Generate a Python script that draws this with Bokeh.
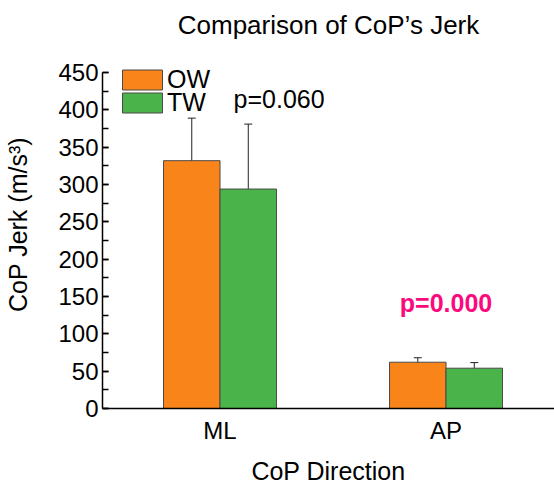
from bokeh.plotting import figure
from bokeh.models import (ColumnDataSource, Range1d, FixedTicker, SingleIntervalTicker,
                          Whisker, TeeHead, Legend, LegendItem, Label)
from bokeh.embed import file_html
from bokeh.resources import INLINE

# CoP jerk per direction, mean and standard deviation (m/s^3)
directions = ["ML", "AP"]
ow_mean = [332, 62]
ow_sd = [57, 6]
tw_mean = [294, 54]
tw_sd = [87, 7.5]
p_values = ["p=0.060", "p=0.000"]
y_max = 450

FONT = "Liberation Sans"
ORANGE = "#F9841A"
GREEN = "#4AB34A"
EDGE = "#4a4a4a"
BAR_W = 0.25

group_x = list(range(len(directions)))


def make_source(means, sds, offset):
    return ColumnDataSource(dict(
        x=[g + offset for g in group_x],
        top=means,
        upper=[m + s for m, s in zip(means, sds)],
        lower=[m - s for m, s in zip(means, sds)],
    ))


ow_src = make_source(ow_mean, ow_sd, -BAR_W / 2)
tw_src = make_source(tw_mean, tw_sd, BAR_W / 2)

# headroom above the axis so the legend is not clipped; the axis itself stops at y_max
p = figure(width=554, height=487, output_backend="svg", toolbar_location=None,
           x_range=Range1d(-0.52, 1.48), y_range=Range1d(0, 493),
           min_border_left=102, min_border_right=0, min_border_top=40,
           min_border_bottom=79)
p.outline_line_color = None
p.background_fill_color = "white"
p.border_fill_color = "white"
p.xgrid.visible = False
p.ygrid.visible = False

p.title.text = "Comparison of CoP\u2019s Jerk"
p.title.align = "center"
p.title.text_font = FONT
p.title.text_font_size = "26px"
p.title.text_font_style = "normal"
p.title.text_color = "black"
p.title.text_line_height = 1.0
p.title.standoff = 2

ow_r = p.vbar(x="x", top="top", width=BAR_W, source=ow_src, fill_color=ORANGE,
              line_color=EDGE, line_width=1)
tw_r = p.vbar(x="x", top="top", width=BAR_W, source=tw_src, fill_color=GREEN,
              line_color=EDGE, line_width=1)

for src in (ow_src, tw_src):
    w = Whisker(base="x", upper="upper", lower="lower", source=src,
                line_color="#222222", line_width=1,
                upper_head=TeeHead(size=8, line_color="#222222", line_width=1),
                lower_head=TeeHead(size=8, line_color="#222222", line_width=1))
    p.add_layout(w)

# p-value annotations
p.add_layout(Label(x=0.06, y=415, text=p_values[0], text_font=FONT,
                   text_font_size="25px", text_baseline="middle", text_align="left",
                   text_color="black"))
p.add_layout(Label(x=1, y=141, text=p_values[1], text_font=FONT,
                   text_font_size="25px", text_font_style="bold",
                   text_baseline="middle", text_align="center", text_color="#FA0A7D"))

# x axis
xa = p.xaxis[0]
xa.ticker = FixedTicker(ticks=group_x)
xa.major_label_overrides = {g: d for g, d in zip(group_x, directions)}
xa.major_tick_in = 0
xa.major_tick_out = 0
xa.minor_tick_in = 0
xa.minor_tick_out = 0
xa.major_label_standoff = 8
xa.axis_label = "CoP Direction"
xa.axis_label_standoff = 10
xa.axis_line_width = 1.5
xa.axis_line_color = "black"

# y axis
ya = p.yaxis[0]
ya.ticker = SingleIntervalTicker(interval=50, num_minor_ticks=2)
ya.bounds = (0, y_max)
ya.major_tick_in = 6
ya.major_tick_out = 0
ya.minor_tick_in = 6
ya.minor_tick_out = 0
ya.major_tick_line_width = 1.5
ya.minor_tick_line_width = 1.5
ya.major_label_standoff = 4
ya.axis_label = "CoP Jerk (m/s\u00b3)"
ya.axis_label_standoff = 23
ya.axis_line_width = 1.5
ya.axis_line_color = "black"

for ax in (xa, ya):
    ax.major_label_text_font = FONT
    ax.major_label_text_font_size = "24px"
    ax.major_label_text_color = "black"
    ax.axis_label_text_font = FONT
    ax.axis_label_text_font_size = "25px"
    ax.axis_label_text_font_style = "normal"
    ax.axis_label_text_color = "black"

# one single-entry legend per series, stacked tightly
legend_style = dict(padding=0, margin=0, glyph_width=50, glyph_height=25,
                    label_standoff=-3, label_text_font=FONT,
                    label_text_font_size="25px", label_text_color="black",
                    background_fill_alpha=0, border_line_alpha=0)
for label, renderer, loc in (("OW", ow_r, (15, 314)), ("TW", tw_r, (15, 291))):
    p.add_layout(Legend(items=[LegendItem(label=label, renderers=[renderer])],
                        location=loc, **legend_style), "center")

open("out.html", "w").write(file_html(p, INLINE))
